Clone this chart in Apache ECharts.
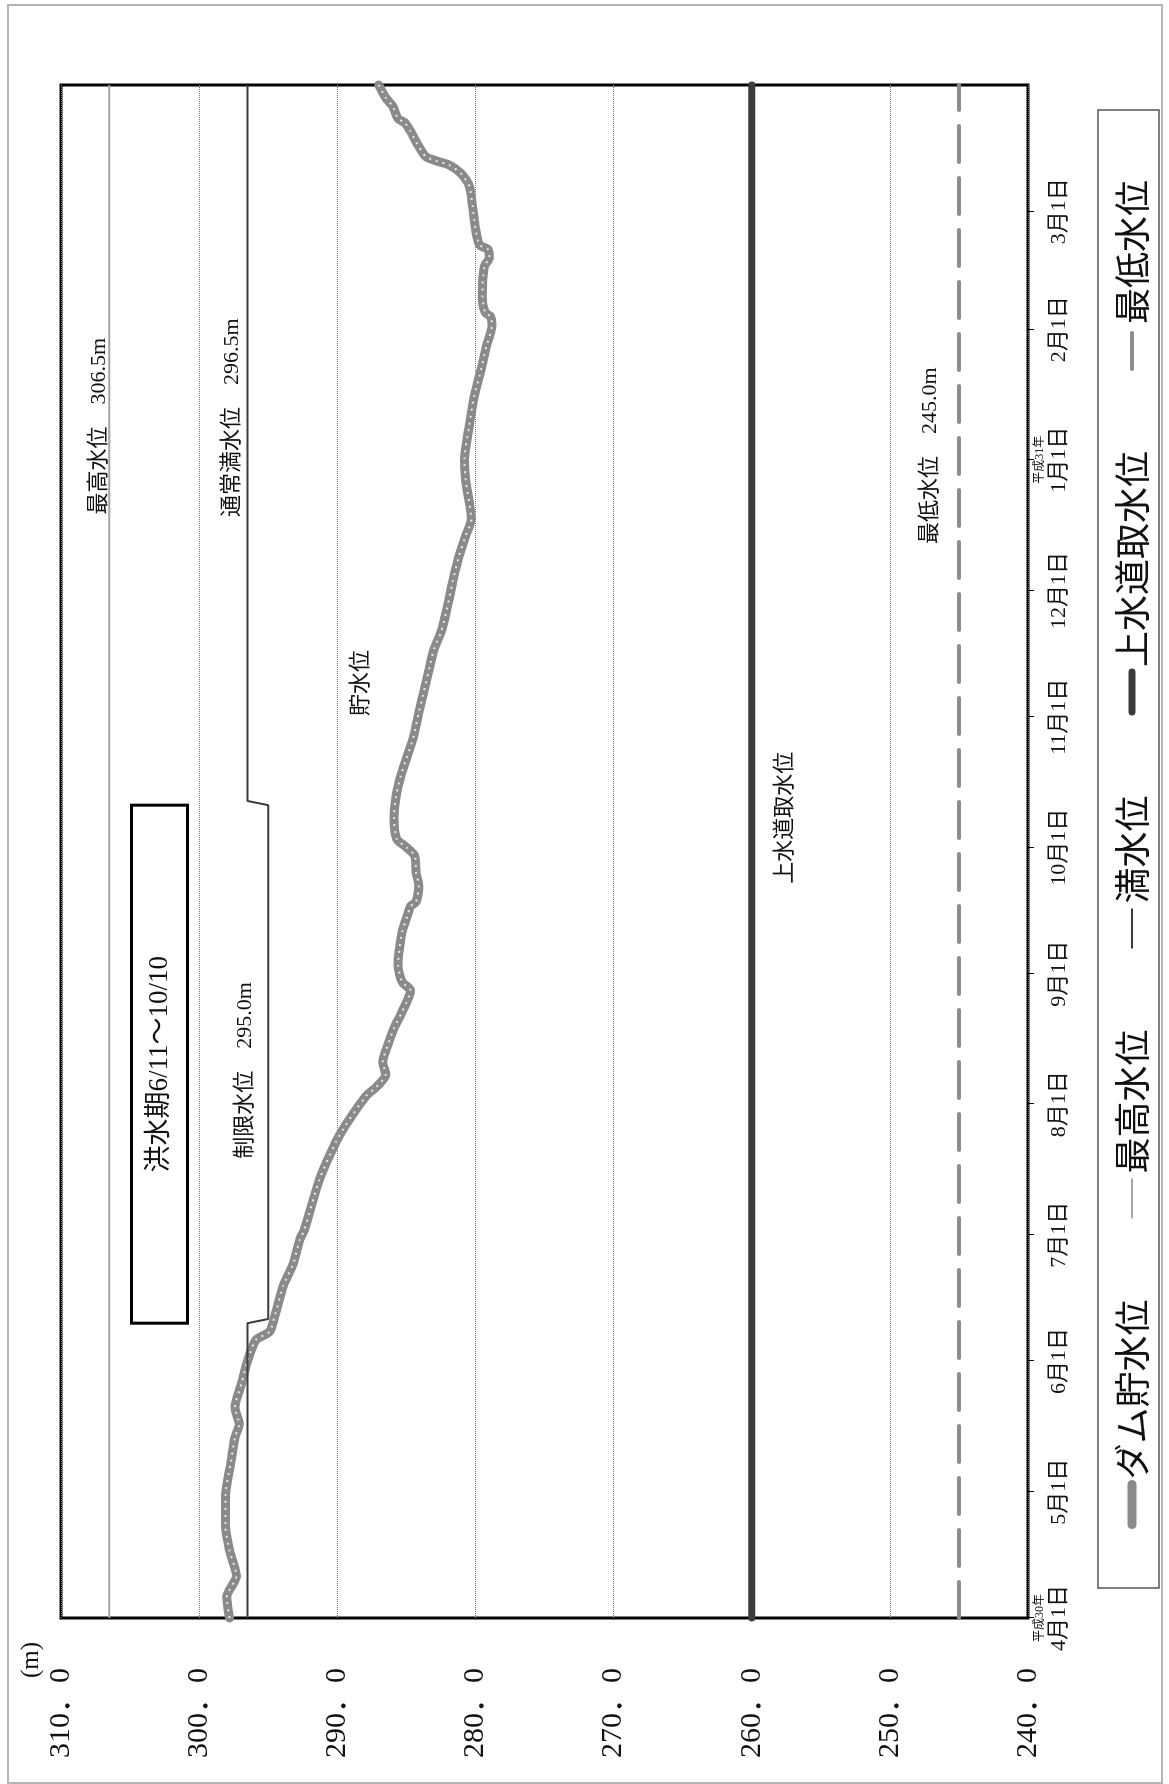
<!DOCTYPE html>
<html>
<head>
<meta charset="utf-8">
<script src="https://cdn.jsdelivr.net/npm/echarts@6/dist/echarts.min.js"></script>
<style>
html, body { margin: 0; padding: 0; background: #fff; width: 1169px; height: 1784px; overflow: hidden; }
/* the chart is drawn landscape and turned a quarter turn, like the original sheet */
#main { position: absolute; left: 0; top: 0; width: 1784px; height: 1169px;
        transform-origin: 0 0; transform: translateY(1784px) rotate(-90deg); }
</style>
</head>
<body>
<div id="main"></div>
<script>
// ダム貯水位 (m)
var damDates = ['2018-04-01','2018-04-06','2018-04-11','2018-04-17','2018-04-23','2018-04-30','2018-05-08','2018-05-14','2018-05-17','2018-05-21','2018-05-27','2018-06-01','2018-06-06','2018-06-08','2018-06-12','2018-06-19','2018-06-24','2018-06-30','2018-07-02','2018-07-14','2018-07-23','2018-07-27','2018-08-03','2018-08-05','2018-08-08','2018-08-11','2018-08-15','2018-08-19','2018-08-23','2018-08-28','2018-08-30','2018-09-03','2018-09-07','2018-09-11','2018-09-15','2018-09-17','2018-09-18','2018-09-22','2018-09-25','2018-09-29','2018-10-01','2018-10-03','2018-10-08','2018-10-13','2018-10-18','2018-10-22','2018-10-27','2018-11-02','2018-11-06','2018-11-13','2018-11-17','2018-11-21','2018-11-26','2018-12-03','2018-12-09','2018-12-14','2018-12-18','2018-12-22','2018-12-27','2019-01-01','2019-01-09','2019-01-16','2019-01-21','2019-01-28','2019-02-02','2019-02-04','2019-02-05','2019-02-09','2019-02-16','2019-02-18','2019-02-20','2019-02-21','2019-02-25','2019-03-02','2019-03-07','2019-03-10','2019-03-12','2019-03-13','2019-03-14','2019-03-17','2019-03-20','2019-03-22','2019-03-23','2019-03-26','2019-03-28','2019-03-31'];
var damLevels = [297.8,298.0,297.3,297.8,298.1,298.1,297.7,297.4,297.1,297.4,296.9,296.5,295.9,294.9,294.5,293.9,293.2,292.7,292.4,291.3,290.1,289.4,287.9,287.2,286.5,286.7,286.35,285.9,285.3,284.7,285.3,285.6,285.5,285.3,284.9,284.7,284.3,284.1,284.3,284.4,285.0,285.7,285.9,285.75,285.4,285.0,284.5,284.1,283.8,283.3,283.0,282.5,282.1,281.65,281.2,280.7,280.3,280.45,280.7,280.8,280.45,280.1,279.7,279.2,278.8,278.9,279.3,279.5,279.35,279.0,279.1,279.7,280.0,280.2,280.45,281.05,281.9,282.85,283.6,284.2,284.7,285.1,285.6,286.0,286.5,287.0];

// fixed levels
var spanDates = ['2018-04-01', '2019-03-31'];
var maxLevels = [306.5, 306.5];          // 最高水位
var fullDates = ['2018-04-01','2018-06-10','2018-06-11','2018-10-11','2018-10-12','2019-03-31'];
var fullLevels = [296.5, 296.5, 295.0, 295.0, 296.5, 296.5];   // 満水位 / 制限水位
var intakeLevels = [260.0, 260.0];       // 上水道取水位
var minLevels = [245.0, 245.0];          // 最低水位

// axes
var levelTicks = [240, 250, 260, 270, 280, 290, 300, 310];
var monthTicks = ['2018-04-01','2018-05-01','2018-06-01','2018-07-01','2018-08-01','2018-09-01','2018-10-01','2018-11-01','2018-12-01','2019-01-01','2019-02-01','2019-03-01'];
var eraLabels = { '2018-04-01': '平成30年', '2019-01-01': '平成31年' };
var legendNames = ['ダム貯水位', '最高水位', '満水位', '上水道取水位', '最低水位'];
var legendWidths = [9, 2, 2, 7, 4];

// notes written inside the plot
var noteTexts = ['最高水位　306.5m', '通常満水位　296.5m', '制限水位　295.0m', '貯水位', '上水道取水位', '最低水位　245.0m'];
var noteDates = ['2019-01-09', '2019-01-11', '2018-08-09', '2018-11-09', '2018-10-08', '2019-01-02'];
var noteLevels = [307.2, 297.6, 296.7, 288.25, 257.55, 247.1];
var floodText = '洪水期6/11～10/10';
var floodDates = ['2018-06-10', '2018-10-11'];
var floodLevels = [304.9, 300.85];

var SERIF = '"Liberation Serif", "Noto Sans CJK JP", serif';
var SANS = '"Noto Sans CJK JP", "Noto Sans", sans-serif';
var DAY = 86400000;
var start = Date.UTC(2018, 3, 1);

// days since 2018-04-01
function dayOf(s) {
    var p = s.split('-');
    return Math.round((Date.UTC(+p[0], +p[1] - 1, +p[2]) - start) / DAY);
}
function dateOf(n) { return new Date(start + n * DAY); }
function pad(n) { return n < 10 ? '0' + n : '' + n; }
function pairs(xs, ys) { return xs.map(function (x, i) { return [dayOf(x), ys[i]]; }); }

var tickDays = monthTicks.map(dayOf);

var chart = echarts.init(document.getElementById('main'));
chart.setOption({
    backgroundColor: '#fff',
    animation: false,
    grid: {
        left: 166, right: 85, top: 61, bottom: 141,
        show: true, borderColor: '#000', borderWidth: 3, backgroundColor: 'transparent'
    },
    legend: {
        data: legendNames.map(function (n, i) {
            return { name: n, lineStyle: { width: legendWidths[i] } };
        }),
        left: 250, top: 1109,
        itemWidth: 40, itemHeight: 14, itemGap: 80,
        itemStyle: { opacity: 0 },
        textStyle: { fontSize: 36, fontFamily: SANS, color: '#111' }
    },
    graphic: [
        { type: 'rect', silent: true, shape: { x: 1, y: 8, width: 1778, height: 1154 },
          style: { fill: 'none', stroke: '#b5b5b5', lineWidth: 2 } },
        { type: 'rect', silent: true, shape: { x: 196, y: 1098, width: 1478, height: 61 },
          style: { fill: 'none', stroke: '#555', lineWidth: 1.5 } },
        { type: 'text', silent: true, x: 106, y: 19,
          style: { text: '(m)', font: '25px ' + SERIF, fill: '#111' } }
    ],
    xAxis: {
        type: 'value',
        min: dayOf(spanDates[0]), max: dayOf(spanDates[1]),
        axisLine: { show: false },
        splitLine: { show: false },
        axisTick: { show: true, customValues: tickDays, length: 6, lineStyle: { color: '#000', width: 1 } },
        axisLabel: {
            customValues: tickDays,
            margin: 5,
            formatter: function (val) {
                var d = dateOf(val);
                var key = d.getUTCFullYear() + '-' + pad(d.getUTCMonth() + 1) + '-' + pad(d.getUTCDate());
                var era = eraLabels[key] || ' ';
                return '{s|' + era + '}\n{m|' + (d.getUTCMonth() + 1) + '月' + d.getUTCDate() + '日}';
            },
            rich: {
                s: { fontSize: 12, lineHeight: 14, fontFamily: SERIF, color: '#111' },
                m: { fontSize: 22, lineHeight: 24, fontFamily: SERIF, color: '#111' }
            }
        }
    },
    yAxis: {
        type: 'value',
        min: levelTicks[0], max: levelTicks[levelTicks.length - 1], interval: 10,
        axisLine: { show: false },
        axisTick: { show: false },
        splitLine: { show: true, lineStyle: { color: '#777', width: 1, type: 'dotted' } },
        axisLabel: {
            margin: 50, fontSize: 30, fontFamily: SERIF, color: '#111',
            formatter: function (v) { return v.toFixed(1).replace('.', '．'); }
        }
    },
    series: [
        {
            name: 'ダム貯水位', type: 'line', data: pairs(damDates, damLevels),
            symbol: 'none', smooth: 0.25,
            lineStyle: { color: '#8a8a8a', width: 9, cap: 'round', join: 'round' },
            itemStyle: { color: '#8a8a8a' }
        },
        {
            name: 'dots', type: 'line', data: pairs(damDates, damLevels),
            symbol: 'none', smooth: 0.25, silent: true,
            lineStyle: { color: '#e8e8e8', width: 2, type: [2, 5] }
        },
        {
            name: '最高水位', type: 'line', data: pairs(spanDates, maxLevels),
            symbol: 'none',
            lineStyle: { color: '#a5a5a5', width: 2 }, itemStyle: { color: '#a5a5a5' },
            markPoint: {
                symbol: 'rect', symbolSize: 0, silent: true,
                label: { show: true, position: 'inside', fontSize: 22, fontFamily: SERIF, color: '#111' },
                data: noteTexts.map(function (t, i) {
                    return { coord: [dayOf(noteDates[i]), noteLevels[i]], value: t, label: { formatter: t } };
                })
            },
            markArea: {
                silent: true,
                itemStyle: { color: 'rgba(0,0,0,0)', borderColor: '#000', borderWidth: 3 },
                label: { show: true, position: 'inside', fontSize: 27, fontFamily: SERIF, color: '#111' },
                data: [[
                    { coord: [dayOf(floodDates[0]), floodLevels[0]], name: floodText },
                    { coord: [dayOf(floodDates[1]), floodLevels[1]] }
                ]]
            }
        },
        {
            name: '満水位', type: 'line', data: pairs(fullDates, fullLevels),
            symbol: 'none',
            lineStyle: { color: '#3c3c3c', width: 2 }, itemStyle: { color: '#3c3c3c' }
        },
        {
            name: '上水道取水位', type: 'line', data: pairs(spanDates, intakeLevels),
            symbol: 'none',
            lineStyle: { color: '#403a3a', width: 7, cap: 'round' }, itemStyle: { color: '#403a3a' }
        },
        {
            name: '最低水位', type: 'line', data: pairs(spanDates, minLevels),
            symbol: 'none',
            lineStyle: { color: '#8c8c8c', width: 4, type: [36, 16], cap: 'round' },
            itemStyle: { color: '#8c8c8c' }
        }
    ]
});
</script>
</body>
</html>
